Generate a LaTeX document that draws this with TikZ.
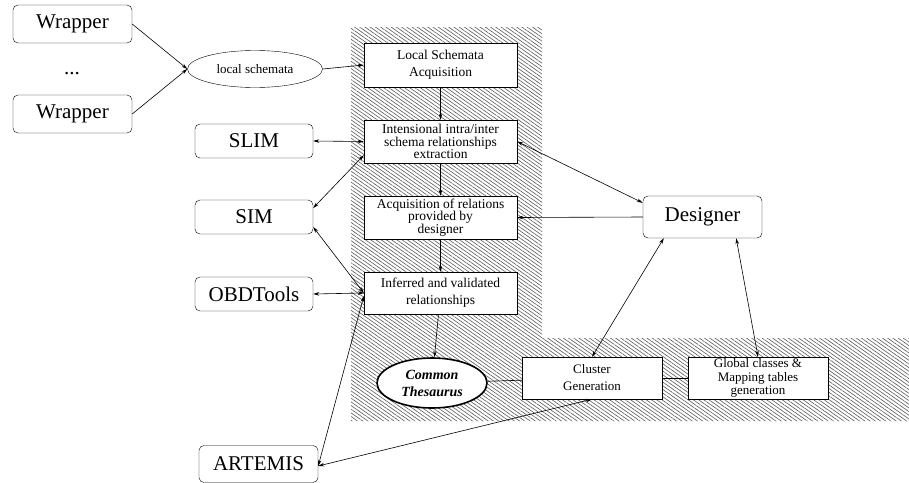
\documentclass[tikz,border=0pt]{standalone}
\usepackage{fontspec}
\setmainfont{Liberation Serif}
\usetikzlibrary{patterns.meta,arrows.meta,shapes.geometric,calc}
\begin{document}
\begin{tikzpicture}[x=1pt,y=-1pt,
  big/.style={draw,rounded corners=5pt,fill=white,font=\fontsize{21}{24}\selectfont,inner sep=0pt},
  proc/.style={draw,fill=white,align=center,inner sep=0pt,minimum width=153pt,font=\fontsize{13.5}{12.5}\selectfont},
  ell/.style={draw,ellipse,fill=white,inner sep=0pt},
  con/.style={line width=0.6pt,-{Stealth[length=6pt,width=3.5pt]}},
  bcon/.style={line width=0.6pt,{Stealth[length=6pt,width=3.5pt]}-{Stealth[length=6pt,width=3.5pt]}},
  pcon/.style={line width=0.6pt}]
\useasboundingbox (0,0) rectangle (909,482);
% hatched background
\fill[pattern={Lines[angle=-35,distance=3pt,line width=0.6pt]},pattern color=black!65]
  (351,27) -- (542,27) -- (542,338) -- (909,338) -- (909,421) -- (351,421) -- cycle;
% left nodes
\node[big,minimum width=119pt,minimum height=38pt] (w1) at (72.5,24) {Wrapper};
\node[big,minimum width=119pt,minimum height=38pt] (w2) at (72.5,114) {Wrapper};
\node[font=\fontsize{21}{24}\selectfont] (dots) at (72,74) {...};
\node[ell,minimum width=135pt,minimum height=37pt,font=\fontsize{13}{15}\selectfont] (ls) at (255,69) {local schemata};
\node[big,minimum width=118pt,minimum height=34pt] (slim) at (254,141) {SLIM};
\node[big,minimum width=118pt,minimum height=34pt] (sim) at (254,217) {SIM};
\node[big,minimum width=118pt,minimum height=34pt] (obd) at (254,294) {OBDTools};
\node[big,minimum width=119pt,minimum height=37pt] (art) at (258.5,464) {ARTEMIS};
% process column
\node[proc,minimum height=44pt,font=\fontsize{13.5}{17}\selectfont] (lsa) at (440.5,65) {Local Schemata\\Acquisition};
\node[proc,minimum height=43pt] (iie) at (440.5,141.5) {Intensional intra/inter\\schema relationships\\extraction};
\node[proc,minimum height=43pt] (aor) at (440.5,217.5) {Acquisition of relations\\provided by\\designer};
\node[proc,minimum height=42pt,font=\fontsize{13.5}{17}\selectfont] (ivr) at (440.5,293) {Inferred and validated\\relationships};
\node[ell,line width=1.6pt,minimum width=110pt,minimum height=50pt,align=center,font=\fontsize{14}{17}\selectfont\bfseries\itshape] (ct) at (432,383) {Common\\Thesaurus};
\node[proc,minimum width=140pt,minimum height=42pt,font=\fontsize{13}{17}\selectfont] (cg) at (592,378) {Cluster\\Generation};
\node[proc,minimum width=140pt,minimum height=42pt,font=\fontsize{13}{13.5}\selectfont] (gc) at (758,378) {Global classes \&\\Mapping tables\\generation};
\node[big,minimum width=119pt,minimum height=42pt] (des) at (702.5,217) {Designer};
% connectors
\draw[con] (w1.east) -- (ls.west);
\draw[con] (w2.east) -- (ls.west);
\draw[con] (ls.east) -- (lsa.west);
\draw[con] (lsa) -- (iie);
\draw[con] (iie) -- (aor);
\draw[con] (aor) -- (ivr);
\draw[con] (ivr) -- (ct);
\draw[pcon] (ct) -- (cg);
\draw[pcon] (cg) -- (gc);
\draw[bcon] (slim.east) -- (iie.west);
\draw[bcon] ([yshift=9pt]sim.east) -- ([yshift=8pt]iie.south west);
\draw[bcon] ([yshift=-10pt]sim.east) -- (ivr.west);
\draw[bcon] (obd.east) -- (ivr.west);
\draw[bcon] ([yshift=-2pt]art.east) -- ([yshift=-3pt]ivr.west);
\draw[bcon] ([yshift=-2pt]art.east) -- (cg.south);
\draw[bcon] (iie.east) -- ([yshift=-7pt]des.north west);
\draw[con] (des.west) -- (aor.east);
\draw[bcon] (cg.north) -- ([xshift=21pt]des.south west);
\draw[bcon] (gc.north) -- ([xshift=-26pt]des.south east);
\end{tikzpicture}
\end{document}
